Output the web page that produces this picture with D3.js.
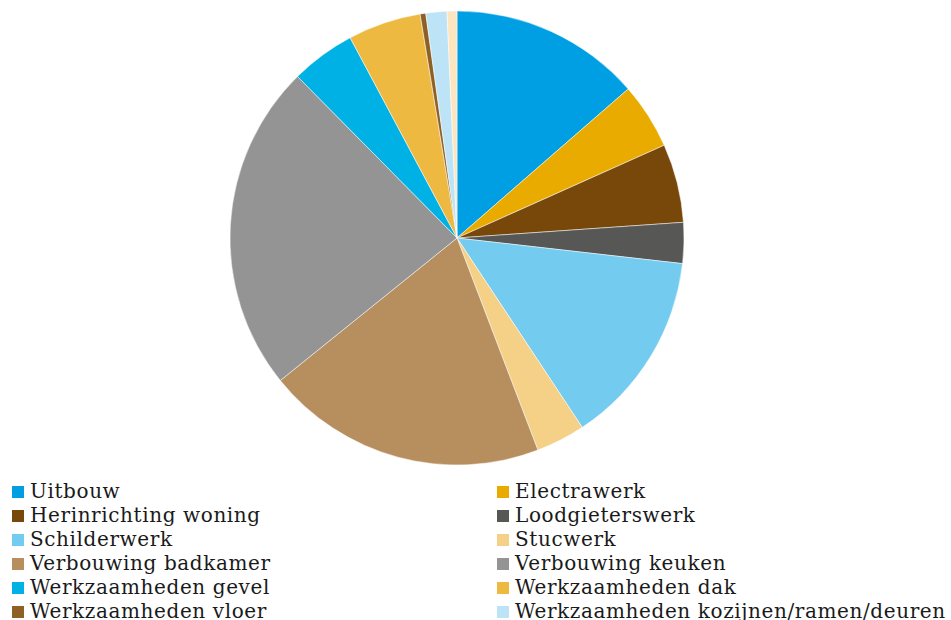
<!DOCTYPE html>
<html>
<head>
<meta charset="utf-8">
<script src="https://cdn.jsdelivr.net/npm/d3@7"></script>
<style>
  html, body { margin: 0; padding: 0; background: #ffffff; }
  svg { display: block; }
</style>
</head>
<body>
<svg id="chart" width="951" height="620"></svg>
<script>
// Share of renovation work per category (percent)
const categories = [
  "Uitbouw", "Electrawerk", "Herinrichting woning", "Loodgieterswerk",
  "Schilderwerk", "Stucwerk", "Verbouwing badkamer", "Verbouwing keuken",
  "Werkzaamheden gevel", "Werkzaamheden dak", "Werkzaamheden vloer",
  "Werkzaamheden kozijnen/ramen/deuren", "Overige werkzaamheden"
];
const values = [13.6, 4.7, 5.6, 2.9, 13.9, 3.5, 20.0, 23.4, 4.6, 5.2, 0.4, 1.5, 0.7];
const colors = [
  "#009fe3", "#e9ab00", "#77480a", "#575756",
  "#74cbf0", "#f4d187", "#b78f5f", "#949494",
  "#00b1e5", "#eeb941", "#8f6025", "#bde4f6", "#fde5c0"
];

const data = categories.map((c, i) => ({ name: c, value: values[i] }));

const width = 951, height = 620;
const svg = d3.select("#chart");
const cx = 457, cy = 238, radius = 227;

const color = d3.scaleOrdinal().domain(categories).range(colors);

const pie = d3.pie().value(d => d.value).sort(null);
const arc = d3.arc().innerRadius(0).outerRadius(radius);

svg.append("g")
  .attr("transform", `translate(${cx},${cy})`)
  .selectAll("path")
  .data(pie(data))
  .join("path")
  .attr("d", arc)
  .attr("fill", d => color(d.data.name))
  .attr("stroke", "#ffffff")
  .attr("stroke-width", 0.5);

// Legend: two columns, filled row by row; only the rows that fit the page
const legendX = [12, 497];
const legendY0 = 492;
const rowH = 24;
const sq = 12;
const rowsFit = Math.floor((height - legendY0) / rowH) + 1;
const legendData = data.slice(0, rowsFit * 2);

const legend = svg.append("g")
  .selectAll("g")
  .data(legendData)
  .join("g")
  .attr("transform", (d, i) => `translate(${legendX[i % 2]},${legendY0 + Math.floor(i / 2) * rowH})`);

legend.append("rect")
  .attr("x", 0)
  .attr("y", -sq / 2)
  .attr("width", sq)
  .attr("height", sq)
  .attr("fill", d => color(d.name));

legend.append("text")
  .attr("x", 18)
  .attr("y", 6)
  .attr("font-family", "'DejaVu Serif', serif")
  .attr("font-size", 20)
  .attr("letter-spacing", 0.6)
  .attr("fill", "#1a1a1a")
  .text(d => d.name);
</script>
</body>
</html>
